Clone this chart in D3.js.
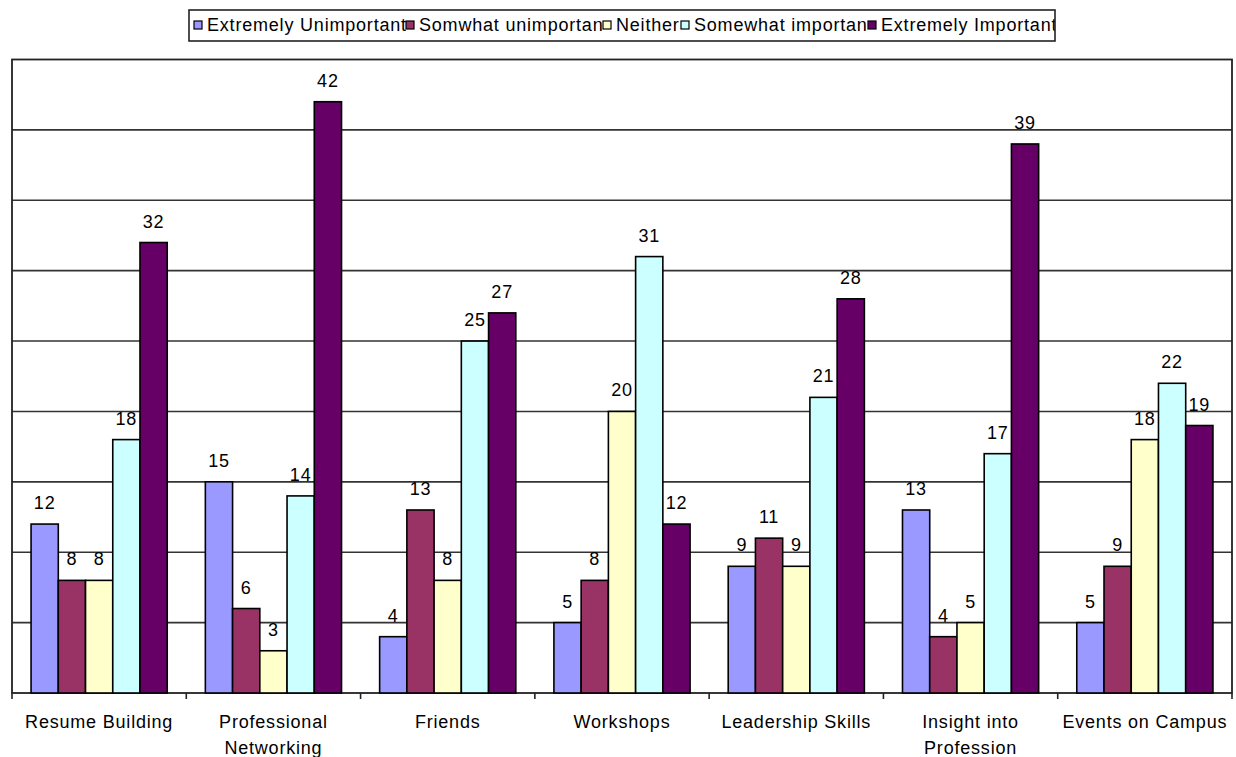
<!DOCTYPE html>
<html>
<head>
<meta charset="utf-8">
<script src="https://cdn.jsdelivr.net/npm/d3@7"></script>
<style>
  html, body { margin: 0; padding: 0; background: #fff; }
  svg text { font-family: "Liberation Sans", Arial, sans-serif; fill: #000; }
</style>
</head>
<body>
<svg id="chart" width="1236" height="757"></svg>
<script>
// Survey: how important is each club benefit
const categories = ["Resume Building", "Professional Networking", "Friends", "Workshops",
                    "Leadership Skills", "Insight into Profession", "Events on Campus"];
const seriesNames = ["Extremely Unimportant", "Somwhat unimportant", "Neither",
                     "Somewhat important", "Extremely Important"];
const extremelyUnimportant = [12, 15, 4, 5, 9, 13, 5];
const somewhatUnimportant  = [8, 6, 13, 8, 11, 4, 9];
const neither              = [8, 3, 8, 20, 9, 5, 18];
const somewhatImportant    = [18, 14, 25, 31, 21, 17, 22];
const extremelyImportant   = [32, 42, 27, 12, 28, 39, 19];
const seriesValues = [extremelyUnimportant, somewhatUnimportant, neither,
                      somewhatImportant, extremelyImportant];
const colors = ["#9999FF", "#993366", "#FFFFCC", "#CCFFFF", "#660066"];
const yTicks = [0, 5, 10, 15, 20, 25, 30, 35, 40, 45];

const svg = d3.select("#chart");
const plot = { left: 12, right: 1232, top: 59.5, bottom: 693 };
const fontSize = 18, letterSpacing = 0.8;

const x0 = d3.scaleBand().domain(categories).range([plot.left, plot.right]).padding(0);
const x1 = d3.scaleBand().domain(seriesNames).range([0, x0.bandwidth()])
  .paddingInner(0).paddingOuter(0.7);
const y = d3.scaleLinear().domain([0, 45]).range([plot.bottom, plot.top]);

// gridlines
svg.append("g").selectAll("line")
  .data(yTicks.filter(t => t > 0 && t < 45))
  .join("line")
  .attr("x1", plot.left).attr("x2", plot.right)
  .attr("y1", d => y(d)).attr("y2", d => y(d))
  .attr("stroke", "#333").attr("stroke-width", 1.6);

// plot frame
svg.append("rect")
  .attr("x", plot.left).attr("y", plot.top)
  .attr("width", plot.right - plot.left).attr("height", plot.bottom - plot.top)
  .attr("fill", "none").attr("stroke", "#222").attr("stroke-width", 1.8);

// x axis: ticks at category boundaries
const boundaries = categories.map(c => x0(c)).concat([plot.right]);
svg.append("g").selectAll("line")
  .data(boundaries)
  .join("line")
  .attr("x1", d => d).attr("x2", d => d)
  .attr("y1", plot.bottom).attr("y2", plot.bottom + 6)
  .attr("stroke", "#222").attr("stroke-width", 1.6);

// bars
const flat = [];
categories.forEach((c, i) => {
  seriesNames.forEach((s, j) => {
    flat.push({ cat: c, series: s, value: seriesValues[j][i], color: colors[j] });
  });
});

svg.append("g").selectAll("rect")
  .data(flat)
  .join("rect")
  .attr("x", d => x0(d.cat) + x1(d.series))
  .attr("y", d => y(d.value))
  .attr("width", x1.bandwidth())
  .attr("height", d => y(0) - y(d.value))
  .attr("fill", d => d.color)
  .attr("stroke", "#000").attr("stroke-width", 1.6);

// value labels
svg.append("g").selectAll("text")
  .data(flat)
  .join("text")
  .attr("x", d => x0(d.cat) + x1(d.series) + x1.bandwidth() / 2)
  .attr("y", d => y(d.value) - 15)
  .attr("text-anchor", "middle")
  .attr("font-size", fontSize)
  .attr("letter-spacing", letterSpacing)
  .text(d => d.value);

// category labels, wrapped to the band width
const catG = svg.append("g");
categories.forEach(c => {
  const cx = x0(c) + x0.bandwidth() / 2;
  const t = catG.append("text")
    .attr("x", cx).attr("y", 728)
    .attr("text-anchor", "middle")
    .attr("font-size", fontSize)
    .attr("letter-spacing", letterSpacing);
  let line = [];
  let tspan = t.append("tspan").attr("x", cx).attr("dy", 0);
  c.split(" ").forEach(w => {
    line.push(w);
    tspan.text(line.join(" "));
    if (tspan.node().getComputedTextLength() > x0.bandwidth() - 4 && line.length > 1) {
      line.pop();
      tspan.text(line.join(" "));
      line = [w];
      tspan = t.append("tspan").attr("x", cx).attr("dy", 26).text(w);
    }
  });
});

// legend: fixed slots, each entry's text runs under the next swatch
const legendLeft = 189, legendRight = 1055, legendTop = 10, legendBottom = 41;
const slotX = [194, 406, 603, 681, 868];
const defs = svg.append("defs");
const legend = svg.append("g");
legend.append("rect")
  .attr("x", legendLeft).attr("y", legendTop)
  .attr("width", legendRight - legendLeft).attr("height", legendBottom - legendTop)
  .attr("fill", "#fff");
seriesNames.forEach((s, j) => {
  const clipRight = j < seriesNames.length - 1 ? slotX[j + 1] : legendRight;
  defs.append("clipPath").attr("id", "lg-clip-" + j)
    .append("rect")
    .attr("x", slotX[j]).attr("y", legendTop)
    .attr("width", clipRight - slotX[j]).attr("height", legendBottom - legendTop);
  legend.append("text")
    .attr("x", slotX[j] + 13).attr("y", 31)
    .attr("font-size", fontSize)
    .attr("letter-spacing", letterSpacing)
    .attr("clip-path", "url(#lg-clip-" + j + ")")
    .text(s);
});
legend.append("rect")
  .attr("x", legendLeft).attr("y", legendTop)
  .attr("width", legendRight - legendLeft).attr("height", legendBottom - legendTop)
  .attr("fill", "none").attr("stroke", "#222").attr("stroke-width", 1.6);
legend.selectAll("rect.sw")
  .data(seriesNames)
  .join("rect")
  .attr("class", "sw")
  .attr("x", (d, j) => slotX[j]).attr("y", 21)
  .attr("width", 8).attr("height", 8)
  .attr("fill", (d, j) => colors[j])
  .attr("stroke", "#000").attr("stroke-width", 1.2);
</script>
</body>
</html>
